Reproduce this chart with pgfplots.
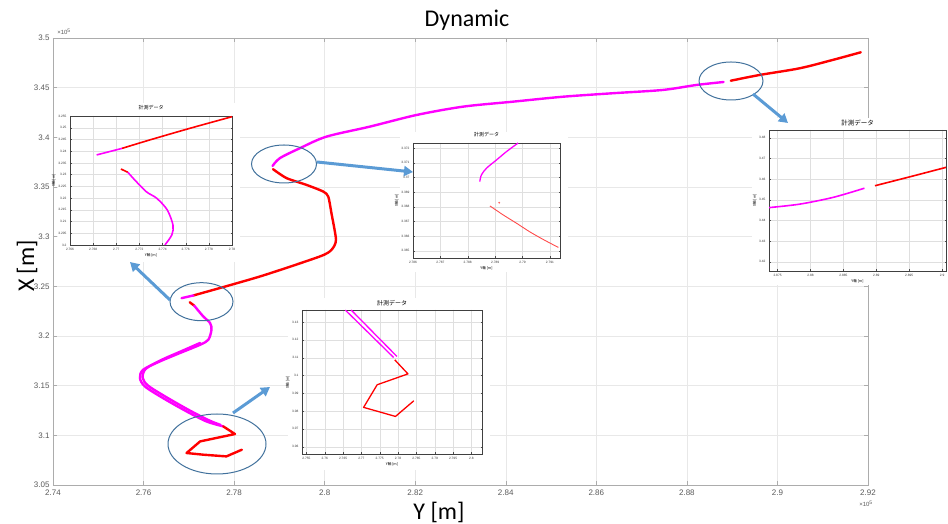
\documentclass[border=0pt]{standalone}
\usepackage{fontspec}
\setmainfont{Liberation Sans}
\newfontfamily\calibri{Carlito}
\newfontfamily\jp{Noto Sans CJK JP}
\usepackage{pgfplots}
\pgfplotsset{compat=1.18}
\usetikzlibrary{arrows.meta}
\definecolor{mag}{RGB}{255,0,255}
\definecolor{rd}{RGB}{255,0,0}
\definecolor{arr}{RGB}{91,155,213}
\definecolor{ell}{RGB}{65,113,156}
\pgfplotsset{
  inset/.style={
    scale only axis, anchor=south west,
    axis background/.style={fill=white},
    grid=major, grid style={gray!25, line width=0.3pt},
    axis line style={black!75, line width=0.7pt},
    tick style={black!70, line width=0.3pt},
    major tick length=1.5pt, tick align=inside,
    ticklabel style={font=\fontsize{3.2}{3.6}\selectfont, text=black!80},
    scaled ticks=false,
    /pgf/number format/fixed, /pgf/number format/precision=4,
    /pgf/number format/assume math mode=true,
    title={\jp 計測データ},
    title style={font=\jp\fontsize{5}{6}\selectfont, yshift=-3pt},
    xlabel={\jp Y軸 [m]}, ylabel={\jp X軸 [m]},
    xlabel style={font=\fontsize{3.6}{4}\selectfont, yshift=4pt},
    ylabel style={font=\fontsize{3.6}{4}\selectfont, yshift=-4pt},
  }
}
\begin{document}
\begin{tikzpicture}
\path[use as bounding box] (0pt,0pt) rectangle (948pt,524pt);
% ---------- main axis ----------
\begin{axis}[
  scale only axis, width=815pt, height=447pt, at={(53pt,39pt)}, anchor=south west,
  xmin=2.74, xmax=2.92, ymin=3.05, ymax=3.5,
  xtick distance=0.02, ytick distance=0.05,
  grid=major, grid style={gray!18, line width=0.5pt},
  axis line style={gray!65, line width=0.9pt},
  tick align=inside, major tick length=4pt, tick style={gray!65, line width=0.5pt},
  ticklabel style={font=\fontsize{8}{9}\selectfont, text=black!65},
  xticklabel style={yshift=-1.5pt},
  /pgf/number format/assume math mode=true, scaled ticks=false,
  every axis plot/.append style={line width=2.4pt, line join=round, line cap=round},
]
% red (top end)
\addplot[rd, smooth] coordinates {(2.8897,3.4570) (2.8961,3.4628) (2.9049,3.4695) (2.9122,3.4779) (2.9184,3.4856)};
% magenta upper
\addplot[mag, smooth] coordinates {(2.7885,3.3712) (2.7901,3.3790) (2.7945,3.3890) (2.8004,3.4007) (2.8100,3.4108) (2.8203,3.4225) (2.8306,3.4309) (2.8416,3.4359) (2.8527,3.4409) (2.8637,3.4444) (2.8747,3.4477) (2.8821,3.4527) (2.8881,3.4557)};
% red middle
\addplot[rd, smooth, tension=0.4] coordinates {(2.7710,3.2408) (2.7857,3.2599) (2.7989,3.2800) (2.8015,3.2867) (2.8025,3.2968) (2.8015,3.3236) (2.8008,3.3403) (2.7997,3.3454) (2.7960,3.3521) (2.7916,3.3589) (2.7886,3.3679)};
% magenta short
\addplot[mag] coordinates {(2.7684,3.2381) (2.7710,3.2408)};
% red tip
\addplot[rd] coordinates {(2.7702,3.2340) (2.7712,3.2305)};
% magenta lower (two passes)
\addplot[mag, smooth] coordinates {(2.7712,3.2305) (2.7732,3.2196) (2.7747,3.2130) (2.7750,3.2062) (2.7743,3.1962) (2.7725,3.1912) (2.7680,3.1828) (2.7636,3.1744) (2.7599,3.1660) (2.7592,3.1577) (2.7603,3.1492) (2.7643,3.1375) (2.7695,3.1241) (2.7739,3.1140) (2.7776,3.1090)};
\addplot[mag, smooth] coordinates {(2.7725,3.1930) (2.7680,3.1840) (2.7640,3.1760) (2.7605,3.1670) (2.7598,3.1580) (2.7610,3.1500) (2.7650,3.1385) (2.7700,3.1255) (2.7745,3.1150) (2.7770,3.1105)};
% red bottom loop
\addplot[rd] coordinates {(2.7776,3.1090) (2.7802,3.1013) (2.7725,3.0939) (2.7695,3.0822) (2.7732,3.0805) (2.7783,3.0788) (2.7817,3.0855)};
\end{axis}
\node[font=\fontsize{6}{7}\selectfont, text=black!65] at (64pt,492pt) {×10\textsuperscript{5}};
\node[font=\fontsize{6}{7}\selectfont, text=black!65] at (866pt,20pt) {×10\textsuperscript{5}};
% ---------- white backgrounds of insets ----------
\fill[white] (58pt,262pt) rectangle (240pt,421pt);
\fill[white] (400pt,252pt) rectangle (568pt,392pt);
\fill[white] (752pt,239pt) rectangle (948pt,406pt);
\fill[white] (288pt,54pt) rectangle (490pt,226pt);
% ---------- inset 1 ----------
\begin{axis}[inset, width=162pt, height=129pt, at={(70pt,279pt)},
  xmin=2.766, xmax=2.780, ymin=3.20, ymax=3.255,
  xtick distance=0.002, ytick distance=0.005,
  every axis plot/.append style={line width=1.6pt, line join=round}]
\addplot[mag] coordinates {(2.7683,3.2384) (2.7705,3.2412)};
\addplot[rd, smooth] coordinates {(2.7705,3.2412) (2.7729,3.2448) (2.7764,3.2498) (2.7800,3.2547)};
\addplot[rd] coordinates {(2.7704,3.2324) (2.7710,3.2310)};
\addplot[mag, smooth] coordinates {(2.7710,3.2310) (2.7716,3.2277) (2.7726,3.2227) (2.7735,3.2199) (2.7744,3.2150) (2.7749,3.2085) (2.7748,3.2043) (2.7742,3.2000)};
\node[font=\fontsize{3}{3}\selectfont, anchor=south west, inner sep=0.5pt] at (rel axis cs:0,1) {×10\textsuperscript{5}};
\end{axis}
% ---------- inset 2 ----------
\begin{axis}[inset, width=147pt, height=115pt, at={(413pt,266pt)},
  xmin=2.786, xmax=2.79137, ymin=3.3645, ymax=3.37234,
  xtick distance=0.001, ytick distance=0.001,
  every axis plot/.append style={line join=round}]
\addplot[mag, line width=1.3pt, smooth] coordinates {(2.78844,3.36971) (2.78850,3.37017) (2.78869,3.37063) (2.78906,3.37120) (2.78942,3.37176) (2.78984,3.37234)};
\addplot[rd!70, line width=0.9pt, smooth] coordinates {(2.78881,3.36805) (2.78930,3.36743) (2.78979,3.36686) (2.79027,3.36628) (2.79076,3.36576) (2.79131,3.36522)};
\addplot[rd!60, only marks, mark=*, mark size=0.7pt] coordinates {(2.78915,3.36827)};
\node[font=\fontsize{3}{3}\selectfont, anchor=south west, inner sep=0.5pt] at (rel axis cs:0,1) {×10\textsuperscript{5}};
\end{axis}
% ---------- inset 3 ----------
\begin{axis}[inset, width=177pt, height=141pt, at={(769pt,253pt)},
  xmin=2.8737, xmax=2.9006, ymin=3.4155, ymax=3.4838,
  xtick distance=0.005, ytick distance=0.01,
  title style={font=\jp\fontsize{6.5}{7}\selectfont, yshift=-3pt},
  every axis plot/.append style={line width=1.6pt, line join=round}]
\addplot[mag, smooth] coordinates {(2.8737,3.4462) (2.8784,3.4479) (2.8835,3.4512) (2.8882,3.4556)};
\addplot[rd, smooth] coordinates {(2.8898,3.4568) (2.8952,3.4612) (2.9006,3.4657)};
\node[font=\fontsize{3}{3}\selectfont, anchor=south west, inner sep=0.5pt] at (rel axis cs:0,1) {×10\textsuperscript{5}};
\end{axis}
% ---------- inset 4 ----------
\begin{axis}[inset, width=180pt, height=144pt, at={(302pt,70pt)},
  xmin=2.7538, xmax=2.8029, ymin=3.0559, ymax=3.1368,
  xtick distance=0.005, ytick distance=0.01,
  title style={font=\jp\fontsize{6}{7}\selectfont, yshift=-3pt},
  every axis plot/.append style={line width=1.3pt, line join=round}]
\addplot[mag] coordinates {(2.7656,3.1368) (2.7788,3.1101)};
\addplot[mag] coordinates {(2.7672,3.1368) (2.7797,3.1107)};
\addplot[rd] coordinates {(2.7791,3.1088) (2.7827,3.1009) (2.7743,3.0948) (2.7706,3.0821) (2.7793,3.0770) (2.7843,3.0858)};
\node[font=\fontsize{3}{3}\selectfont, anchor=south west, inner sep=0.5pt] at (rel axis cs:0,1) {×10\textsuperscript{5}};
\end{axis}
% ---------- ellipses and arrows ----------
\draw[ell, line width=1pt] (731pt,443pt) ellipse [x radius=32pt, y radius=19pt];
\draw[ell, line width=1pt] (284pt,360pt) ellipse [x radius=32.5pt, y radius=19pt];
\draw[ell, line width=1pt] (201.5pt,222.3pt) ellipse [x radius=31.5pt, y radius=19pt];
\draw[ell, line width=1pt] (217pt,80pt) ellipse [x radius=49pt, y radius=30pt];
\draw[arr, line width=3pt, -{Triangle[length=9pt,width=10pt]}] (753pt,430pt) -- (788pt,401pt);
\draw[arr, line width=3pt, -{Triangle[length=9pt,width=10pt]}] (317pt,362pt) -- (413pt,352pt);
\draw[arr, line width=3pt, -{Triangle[length=9pt,width=10pt]}] (170pt,224pt) -- (130pt,262pt);
\draw[arr, line width=3pt, -{Triangle[length=9pt,width=10pt]}] (233pt,111pt) -- (270pt,137pt);
% ---------- titles ----------
\node[font=\calibri\fontsize{24}{26}\selectfont] at (467pt,504pt) {Dynamic};
\node[font=\calibri\fontsize{24}{26}\selectfont, rotate=90] at (27pt,258pt) {X [m]};
\node[font=\calibri\fontsize{24}{26}\selectfont] at (439pt,12pt) {Y [m]};
\end{tikzpicture}
\end{document}
